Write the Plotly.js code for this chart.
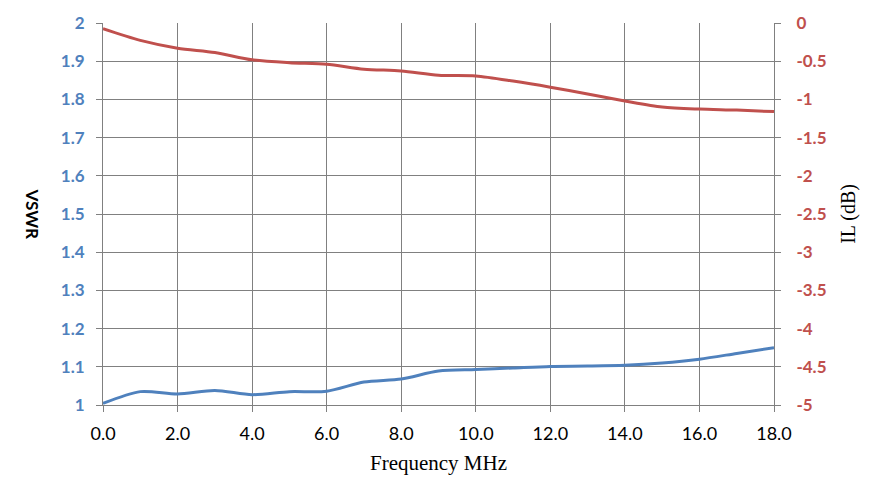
<!DOCTYPE html>
<html>
<head>
<meta charset="utf-8">
<script src="https://cdn.plot.ly/plotly-3.0.1.min.js"></script>
<style>
  html, body { margin: 0; padding: 0; background: #fff; }
  #chart { width: 886px; height: 503px; }
</style>
</head>
<body>
<div id="chart"></div>
<script>
// frequency points (MHz)
var freq = [0, 1, 2, 3, 4, 5, 6, 7, 8, 9, 10, 11, 12, 13, 14, 15, 16, 17, 18];

// VSWR, left axis
var vswr = [1.004, 1.035, 1.029, 1.038, 1.027, 1.035, 1.036, 1.060, 1.068, 1.089,
            1.093, 1.097, 1.101, 1.102, 1.104, 1.110, 1.120, 1.135, 1.150];

// insertion loss (dB), right axis
var il = [-0.075, -0.228, -0.33, -0.386, -0.482, -0.52, -0.54, -0.605, -0.627, -0.684,
          -0.693, -0.76, -0.84, -0.93, -1.02, -1.10, -1.127, -1.14, -1.16];

// tick labels
var xTickVals = [0, 2, 4, 6, 8, 10, 12, 14, 16, 18];
var xTickText = ["0.0", "2.0", "4.0", "6.0", "8.0", "10.0", "12.0", "14.0", "16.0", "18.0"];
var ilTickVals = [0, -0.5, -1, -1.5, -2, -2.5, -3, -3.5, -4, -4.5, -5];
var ilTickText = ["0", "-0.5", "-1", "-1.5", "-2", "-2.5", "-3", "-3.5", "-4", "-4.5", "-5"];

var blue = "#4F81BD";
var red = "#C0504D";
var gridCol = "#808080";
var simFont = "'Liberation Serif', serif";

var traceV = {
  x: freq,
  y: vswr,
  type: "scatter",
  mode: "lines",
  line: { color: blue, width: 3, shape: "spline", smoothing: 0.8 },
  yaxis: "y",
  name: "VSWR"
};

var traceIL = {
  x: freq,
  y: il,
  type: "scatter",
  mode: "lines",
  line: { color: red, width: 3, shape: "spline", smoothing: 0.8 },
  yaxis: "y2",
  name: "IL"
};

var layout = {
  width: 886,
  height: 503,
  margin: { l: 103, r: 112, t: 23, b: 98 },
  paper_bgcolor: "#fff",
  plot_bgcolor: "#fff",
  showlegend: false,
  xaxis: {
    range: [0, 18],
    tickvals: xTickVals,
    ticktext: xTickText,
    showgrid: true,
    gridcolor: gridCol,
    gridwidth: 1,
    zeroline: false,
    showline: true,
    linecolor: gridCol,
    ticks: "outside",
    ticklen: 6,
    tickcolor: gridCol,
    ticklabelstandoff: 6,
    tickfont: { family: "Lato, sans-serif", size: 18, color: "#000" },
    title: {
      text: "Frequency MHz",
      font: { family: simFont, size: 21, color: "#000" },
      standoff: 12
    }
  },
  yaxis: {
    range: [1, 2],
    dtick: 0.1,
    showgrid: true,
    gridcolor: gridCol,
    gridwidth: 1,
    zeroline: false,
    showline: true,
    linecolor: gridCol,
    ticks: "outside",
    ticklen: 6,
    tickcolor: gridCol,
    ticklabelstandoff: 8,
    tickfont: { family: "Lato, sans-serif", size: 17, color: blue, weight: "bold" }
  },
  yaxis2: {
    range: [-5, 0],
    overlaying: "y",
    side: "right",
    tickvals: ilTickVals,
    ticktext: ilTickText,
    showgrid: false,
    zeroline: false,
    showline: true,
    linecolor: gridCol,
    ticks: "outside",
    ticklen: 6,
    tickcolor: gridCol,
    ticklabelstandoff: 12,
    tickfont: { family: "Lato, sans-serif", size: 17, color: red, weight: "bold" }
  },
  annotations: [
    {
      text: "<b>VSWR</b>",
      xref: "paper", yref: "paper",
      x: -0.105, y: 0.5,
      xanchor: "center", yanchor: "middle",
      textangle: 90,
      showarrow: false,
      font: { family: "Lato, sans-serif", size: 17, color: "#000" }
    },
    {
      text: "IL (dB)",
      xref: "paper", yref: "paper",
      x: 1.11, y: 0.5,
      xanchor: "center", yanchor: "middle",
      textangle: -90,
      showarrow: false,
      font: { family: simFont, size: 20, color: "#000" }
    }
  ]
};

Plotly.newPlot("chart", [traceIL, traceV], layout, { displayModeBar: false, staticPlot: true });
</script>
</body>
</html>
